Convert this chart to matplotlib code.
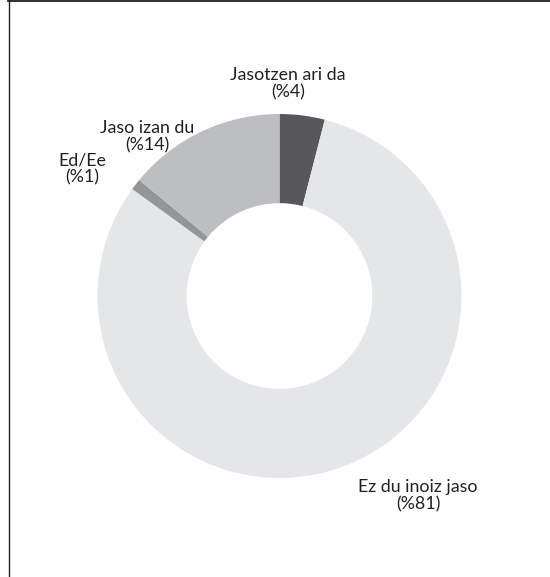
import matplotlib
matplotlib.use("Agg")
import matplotlib.pyplot as plt
from matplotlib.lines import Line2D

categories = ["Jasotzen ari da", "Ez du inoiz jaso", "Ed/Ee", "Jaso izan du"]
values = [4, 81, 1, 14]
colors = ["#58585a", "#e5e6e7", "#939598", "#bdbec0"]
label_pos = [(288, 84), (418, 496), (82, 169), (147, 137)]

plt.rcParams['font.family'] = ['Lato', 'DejaVu Sans']

W, H = 550, 577
fig = plt.figure(figsize=(W / 100, H / 100), dpi=100)
ax = fig.add_axes([0, 0, 1, 1])
ax.set_aspect('equal')
ax.axis('off')

cx, cy, R = 279.5, 296, 182
ax.pie(values, colors=colors, startangle=90, counterclock=False,
       center=(cx, H - cy), radius=R,
       wedgeprops=dict(width=R * 0.49, linewidth=0))
ax.set_ylim(0, H)
ax.set_xlim(0, W)

for cat, v, (x, y) in zip(categories, values, label_pos):
    ax.text(x, H - y, f"{cat}\n(%{v})", ha='center', va='center',
            fontsize=12.8, color='#231f20', linespacing=1.12)

fig.add_artist(Line2D([8 / W, 1], [1 - 0.8 / H, 1 - 0.8 / H], transform=fig.transFigure,
                      color='#231f20', linewidth=1.3))
fig.add_artist(Line2D([8.5 / W, 8.5 / W], [0, 1], transform=fig.transFigure,
                      color='#231f20', linewidth=1.0))

fig.savefig("out.png", dpi=100)
